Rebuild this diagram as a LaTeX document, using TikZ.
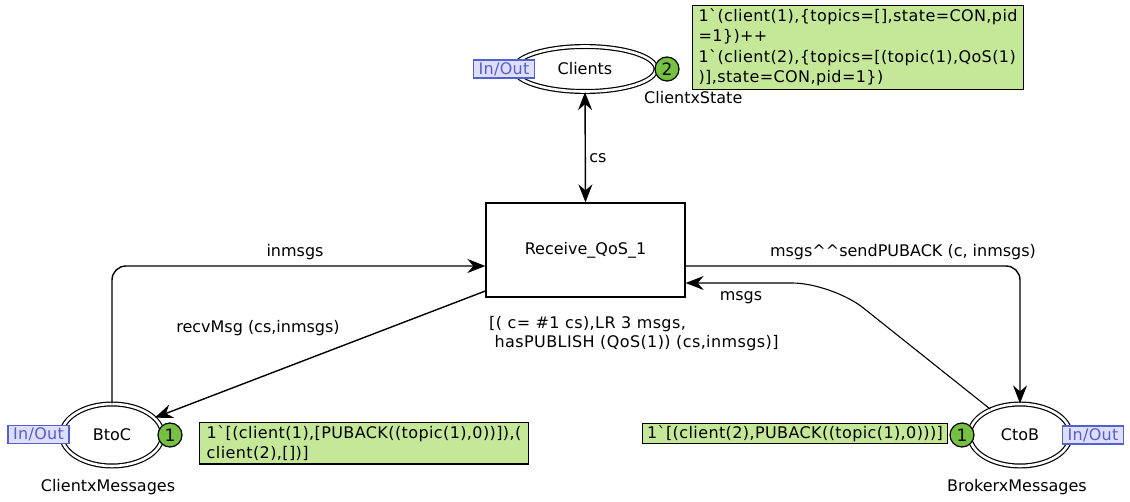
\documentclass[tikz,border=0pt]{standalone}
\usepackage{fontspec}
\setmainfont{DejaVu Sans}[Ligatures=TeXOff]
\usetikzlibrary{shapes.geometric,arrows.meta,calc}
\definecolor{markfill}{RGB}{197,232,152}
\definecolor{tokfill}{RGB}{118,192,66}
\definecolor{tagfill}{RGB}{222,222,250}
\definecolor{tagdraw}{RGB}{84,96,204}
\newcommand{\bq}{\symbol{96}}
\begin{document}
\begin{tikzpicture}[x=1pt,y=-1pt,
  every node/.style={font=\fontsize{16}{20.5}\selectfont},
  place/.style={ellipse,draw,line width=1.2pt,double,double distance=2.6pt,inner sep=0pt},
  trans/.style={rectangle,draw,line width=1.3pt,minimum width=199pt,minimum height=94pt},
  token/.style={circle,draw,line width=1.2pt,fill=tokfill,minimum size=24pt,inner sep=0pt,font=\fontsize{17}{20}\selectfont},
  iotag/.style={rectangle,draw=tagdraw,fill=tagfill,text=tagdraw,line width=1.1pt,inner sep=1.5pt,
    minimum height=18pt,minimum width=61pt,font=\fontsize{16}{20}\selectfont\addfontfeatures{LetterSpace=2}},
  marking/.style={rectangle,draw,line width=1.1pt,fill=markfill,align=left,inner sep=3pt,anchor=north west,
    font=\fontsize{16}{20.5}\selectfont\addfontfeatures{LetterSpace=2.5}},
  lbl/.style={inner sep=1pt},
  tip/.style={-{Stealth[length=18pt,width=14pt,inset=6pt]}},
  arc/.style={line width=1.4pt,tip},
  arcboth/.style={line width=1.4pt,{Stealth[length=18pt,width=14pt,inset=6pt]}-{Stealth[length=18pt,width=14pt,inset=6pt]}}
]
\useasboundingbox (0,0) rectangle (1130,502);

% places
\node[place,minimum width=142pt,minimum height=45pt] (clients) at (585,69) {Clients};
\node[place,minimum width=101pt,minimum height=62pt] (btoc) at (112,435) {BtoC};
\node[place,minimum width=101pt,minimum height=62pt] (ctob) at (1020,435) {CtoB};

% transition
\node[trans] (recv) at (585.5,250) {Receive\_QoS\_1};

% port tags
\node[iotag] (tagclients) at (504,69) {In/Out};
\node[iotag] (tagbtoc) at (38.5,434.5) {In/Out};
\node[iotag] (tagctob) at (1093,435) {In/Out};

% tokens
\node[token] (tokclients) at (667,69) {2};
\node[token] (tokbtoc) at (170,435) {1};
\node[token] (tokctob) at (962,435) {1};

% colour sets
\node[lbl,anchor=north west] (csclients) at (643,90) {ClientxState};
\node[lbl] (csbtoc) at (108,487) {ClientxMessages};
\node[lbl] (csctob) at (1017,487) {BrokerxMessages};

% markings
\node[marking,minimum width=331pt] (mclients) at (692,5) {1\bq(client(1),\{topics=[],state=CON,pid\\=1\})++\\1\bq(client(2),\{topics=[(topic(1),QoS(1)\\)],state=CON,pid=1\})};
\node[marking,minimum width=329pt] (mbtoc) at (199,422) {1\bq[(client(1),[PUBACK((topic(1),0))]),(\\client(2),[])]};
\node[marking,inner sep=2pt,minimum width=305pt] (mctob) at (642,423) {1\bq[(client(2),PUBACK((topic(1),0)))]};

% guard
\node[lbl,anchor=north west,align=left,font=\fontsize{16}{19.5}\selectfont\addfontfeatures{LetterSpace=2.5}] (guard) at (488,315) {[( c= \#1 cs),LR 3 msgs,\\\ hasPUBLISH (QoS(1)) (cs,inmsgs)]};

% arcs
\draw[arcboth] (clients.south) -- (recv.north);
\draw[arc,rounded corners=14pt] (btoc.north) |- ($(recv.west)+(0,16)$);
\draw[arc] ($(recv.west)+(0,41)$) -- (btoc.22);
\draw[arc,rounded corners=14pt] ($(recv.east)+(0,16)$) -| (ctob.north);
\coordinate (bend) at (832,283);
\draw[arc,line width=1.1pt,rounded corners=40pt] (ctob.139) -- (bend) -- (recv.east |- bend);

% arc inscriptions
\node[lbl] (lcs) at (598,158) {cs};
\node[lbl] (linmsgs) at (295,252) {inmsgs};
\node[lbl] (lrecv) at (258,328) {recvMsg (cs,inmsgs)};
\node[lbl] (lsend) at (903,252) {msgs\^{}\^{}sendPUBACK (c, inmsgs)};
\node[lbl] (lmsgs) at (741,298) {msgs};
\end{tikzpicture}
\end{document}
